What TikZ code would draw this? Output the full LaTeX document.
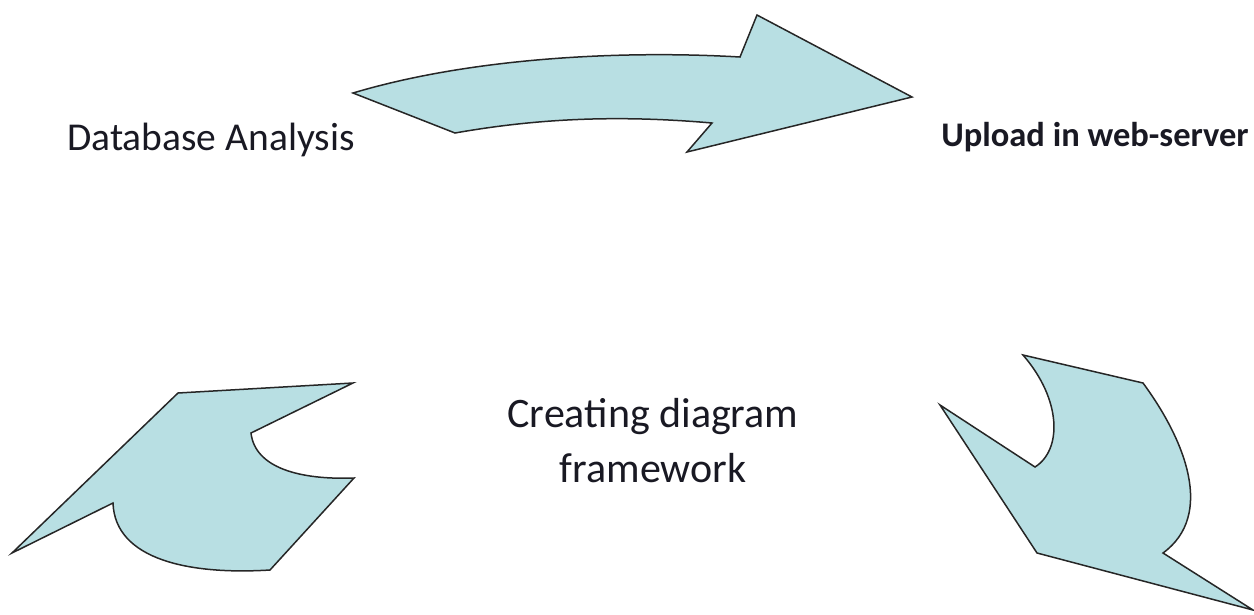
\documentclass[tikz,border=0pt]{standalone}
\usepackage{fontspec}
\setmainfont{Carlito}
\definecolor{shapefill}{RGB}{184,223,227}
\definecolor{txt}{RGB}{25,25,35}
\begin{document}
\begin{tikzpicture}[x=1pt,y={(0pt,-1pt)},
  blob/.style={fill=shapefill,draw=black!85,line width=1.5pt,line join=miter},
  lbl/.style={text=txt,inner sep=0pt,font=\fontsize{39.5}{46}\selectfont},
  lblb/.style={text=txt,inner sep=0pt,font=\fontsize{34.5}{40}\selectfont\bfseries}]
\useasboundingbox (0,0) rectangle (1254,614);
% top curved arrow
\draw[blob] (353,93) .. controls (470,58) and (620,50) .. (740,57) -- (757,15) -- (912,97)
  -- (687,152) -- (712,123) .. controls (620,115) and (540,118) .. (455,133) -- cycle;
% lower-left shape
\draw[blob] (178,393) -- (353,383) -- (251,433) .. controls (255,468) and (300,480) .. (354,478)
  -- (270,570) .. controls (190,575) and (115,560) .. (113,503) -- (12,553) -- cycle;
% lower-right shape
\draw[blob] (1023,355) -- (1143,383) .. controls (1185,440) and (1215,515) .. (1163,553)
  -- (1253,610) -- (1037,553) -- (940,405) -- (1035,467) .. controls (1062,450) and (1062,400) .. (1023,355) -- cycle;
% labels
\node[lbl] (db) at (211,140) {Database Analysis};
\node[lblb] (up) at (1095,137) {Upload in web-server};
\node[lbl,align=center,font=\fontsize{42}{55}\selectfont] (cd) at (653,441) {Creating diagram\\framework};
\end{tikzpicture}
\end{document}
